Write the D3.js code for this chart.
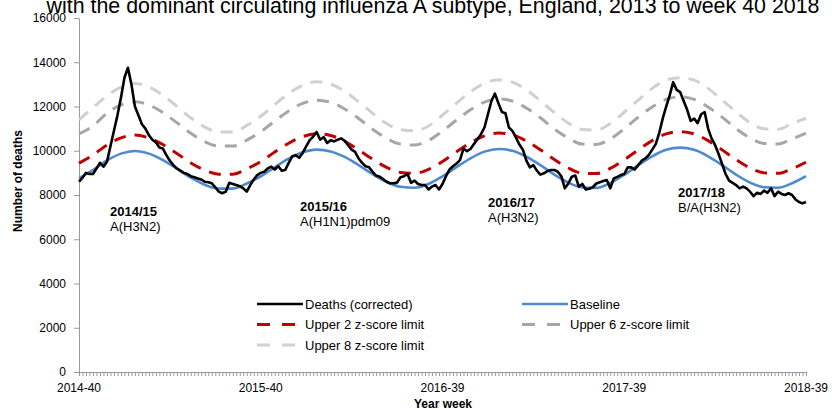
<!DOCTYPE html>
<html>
<head>
<meta charset="utf-8">
<script src="https://cdn.jsdelivr.net/npm/d3@7"></script>
<style>
  body { margin: 0; background: #fff; }
  svg { display: block; font-family: "Liberation Sans", Arial, sans-serif; }
</style>
</head>
<body>
<svg id="chart" width="832" height="410"></svg>
<script>
// weekly deaths (corrected), 2014-40 .. 2018-39
const deaths = [
  8600, 8780, 9000, 8950, 8950, 9200, 9450, 9280, 9500, 10200,
  10900, 11600, 12400, 13300, 13750, 13000, 12000, 11600, 11200, 11000,
  10700, 10500, 10380, 10150, 10100, 9800, 9550, 9350, 9200, 9100,
  9000, 8950, 8850, 8800, 8750, 8700, 8600, 8580, 8530, 8350,
  8150, 8080, 8150, 8550, 8500, 8450, 8400, 8300, 8150, 8450,
  8700, 8900, 9000, 9050, 9200, 9280, 9150, 9300, 9100, 9130,
  9450, 9750, 9800, 9680, 9900, 10200, 10480, 10640, 10850, 10500,
  10620, 10350, 10480, 10420, 10500, 10560, 10450, 10250, 10050, 9950,
  9650, 9450, 9300, 9250, 9050, 8880, 8830, 8720, 8600, 8530,
  8530, 8560, 8800, 8850, 8950, 8550, 8650, 8500, 8450, 8450,
  8250, 8380, 8450, 8250, 8500, 8850, 9150, 9300, 9420, 9580,
  10100, 9980, 10080, 10300, 10520, 10750, 11050, 11650, 12250, 12580,
  12150, 11750, 11700, 11050, 10900, 10600, 10280, 10050, 9550, 9250,
  9350, 9100, 8920, 8980, 9080, 9130, 9130, 9050, 8850, 8300,
  8520, 8830, 8880, 8380, 8500, 8250, 8280, 8350, 8520, 8580,
  8630, 8680, 8300, 8750, 8820, 8900, 8950, 9250, 9250, 9150,
  9350, 9550, 9650, 9800, 10050, 10300, 10800, 11450, 12000, 12500,
  13100, 12750, 12650, 12250, 11850, 11350, 11450, 11250, 11650, 11750,
  11000, 10550, 10250, 9850, 9400, 8950, 8650, 8550, 8450, 8300,
  8380, 8300, 8150, 7950, 8100, 8050, 8200, 8100, 8300, 7950,
  8150, 8050, 8000, 8080, 8000, 7800, 7680, 7620, 7680
];

// smooth series, read every 4th week
const baseline = [
  8760, 9130, 9560, 9870, 9990, 9870, 9580, 9190, 8780, 8460,
  8290, 8290, 8520, 8840, 9250, 9640, 9930, 10050, 9970, 9720,
  9350, 8940, 8590, 8370, 8330, 8500, 8840, 9260, 9660, 9960,
  10080, 10000, 9730, 9350, 8920, 8560, 8340, 8320, 8540, 8910,
  9350, 9750, 10040, 10140, 10040, 9750, 9350, 8920, 8560, 8350,
  8330, 8530, 8850
];
const upper2 = [
  9440, 9810, 10260, 10580, 10710, 10580, 10280, 9880, 9450, 9120,
  8940, 8940, 9180, 9510, 9940, 10340, 10640, 10770, 10690, 10430,
  10040, 9620, 9250, 9020, 8980, 9160, 9510, 9950, 10360, 10670,
  10800, 10720, 10440, 10040, 9600, 9220, 8990, 8970, 9200, 9590,
  10040, 10460, 10760, 10860, 10760, 10460, 10040, 9600, 9220, 9000,
  8980, 9190, 9480
];
const upper6 = [
  10760, 11120, 11700, 12070, 12210, 12070, 11730, 11270, 10790, 10410,
  10210, 10210, 10480, 10860, 11340, 11800, 12140, 12280, 12190, 11890,
  11460, 10970, 10560, 10300, 10260, 10460, 10890, 11380, 11850, 12200,
  12340, 12250, 11930, 11490, 10980, 10570, 10300, 10280, 10530, 10990,
  11520, 11980, 12320, 12440, 12320, 11980, 11520, 11000, 10580, 10330,
  10310, 10540, 10790
];
const upper8 = [
  11400, 11950, 12480, 12880, 13040, 12880, 12510, 12010, 11480, 11070,
  10850, 10850, 11140, 11560, 12090, 12590, 12960, 13120, 13010, 12690,
  12210, 11690, 11230, 10950, 10900, 11120, 11610, 12150, 12660, 13050,
  13200, 13100, 12750, 12260, 11720, 11250, 10960, 10940, 11230, 11740,
  12290, 12820, 13190, 13300, 13190, 12820, 12290, 11750, 11270, 10990,
  10970, 11230, 11470
];

const xTickLabels = ["2014-40", "2015-40", "2016-39", "2017-39", "2018-39"];
const xTickWeeks = [0, 52, 104, 156, 208];
const yTicks = [0, 2000, 4000, 6000, 8000, 10000, 12000, 14000, 16000];

const seasons = ["2014/15", "2015/16", "2016/17", "2017/18"];
const subtypes = ["A(H3N2)", "A(H1N1)pdm09", "A(H3N2)", "B/A(H3N2)"];

const svg = d3.select("#chart");
svg.append("rect").attr("width", 832).attr("height", 410).attr("fill", "#fff");

const x = d3.scaleLinear().domain([0, 208]).range([79, 806]);
const y = d3.scaleLinear().domain([0, 16000]).range([372, 18]);

// title (cut at the top like the source)
svg.append("text")
  .attr("x", 433).attr("y", 13)
  .attr("text-anchor", "middle")
  .style("font-size", "21.4px")
  .attr("fill", "#000")
  .text("with the dominant circulating influenza A subtype, England, 2013 to week 40 2018");

// y axis
const yAxis = svg.append("g")
  .attr("transform", "translate(79,0)")
  .call(d3.axisLeft(y).tickValues(yTicks).tickFormat(d3.format("d")).tickSize(5).tickSizeOuter(0).tickPadding(8));
yAxis.select(".domain").attr("stroke", "#9a9a9a");
yAxis.selectAll(".tick line").attr("stroke", "#9a9a9a");
yAxis.selectAll(".tick text").style("font-size", "12px").style("font-family", "Liberation Sans, Arial").attr("fill", "#000");

// x axis: one small tick per week
const xAxis = svg.append("g")
  .attr("transform", "translate(0,372)")
  .call(d3.axisBottom(x).tickValues(d3.range(0, 209)).tickFormat("").tickSize(4).tickSizeOuter(0));
xAxis.select(".domain").attr("stroke", "#9a9a9a");
xAxis.selectAll(".tick line").attr("stroke", "#9a9a9a");

svg.append("g").selectAll("text")
  .data(xTickLabels)
  .join("text")
  .attr("x", (d, i) => x(xTickWeeks[i]))
  .attr("y", 392)
  .attr("text-anchor", "middle")
  .style("font-size", "12px")
  .text(d => d);

svg.append("text")
  .attr("x", 443).attr("y", 408)
  .attr("text-anchor", "middle")
  .style("font-size", "12px").style("font-weight", "bold")
  .text("Year week");

svg.append("text")
  .attr("transform", "translate(22,181) rotate(-90)")
  .attr("text-anchor", "middle")
  .style("font-size", "12px").style("font-weight", "bold")
  .text("Number of deaths");

// lines
const smoothLine = d3.line()
  .x((d, i) => x(i * 4))
  .y(d => y(d))
  .curve(d3.curveMonotoneX);
const weekLine = d3.line()
  .x((d, i) => x(i))
  .y(d => y(d));

const series = [
  { data: upper8, color: "#d0d0d0", dash: "12,9", width: 3, line: smoothLine },
  { data: upper6, color: "#a6a6a6", dash: "12,9", width: 3, line: smoothLine },
  { data: upper2, color: "#c00000", dash: "12,9", width: 3, line: smoothLine },
  { data: baseline, color: "#4f8ad0", dash: null, width: 2.6, line: smoothLine },
  { data: deaths, color: "#000", dash: null, width: 2.6, line: weekLine }
];
series.forEach(s => {
  svg.append("path")
    .datum(s.data)
    .attr("d", s.line)
    .attr("fill", "none")
    .attr("stroke", s.color)
    .attr("stroke-width", s.width)
    .attr("stroke-dasharray", s.dash)
    .attr("stroke-linejoin", "round");
});

// season annotations
const annotationAt = [[110, 216], [300, 211], [488, 207], [678, 197]];
seasons.forEach((s, i) => {
  const [ax, ay] = annotationAt[i];
  svg.append("text").attr("x", ax).attr("y", ay)
    .style("font-size", "13px").style("font-weight", "bold").text(s);
  svg.append("text").attr("x", ax).attr("y", ay + 15)
    .style("font-size", "13px").text(subtypes[i]);
});

// legend
const legendItems = [
  { name: "Deaths (corrected)", color: "#000", dash: null, width: 2.6, col: 0, row: 0 },
  { name: "Baseline", color: "#4f8ad0", dash: null, width: 2.6, col: 1, row: 0 },
  { name: "Upper 2 z-score limit", color: "#c00000", dash: "13,12", width: 3, col: 0, row: 1 },
  { name: "Upper 6 z-score limit", color: "#a6a6a6", dash: "13,12", width: 3, col: 1, row: 1 },
  { name: "Upper 8 z-score limit", color: "#d0d0d0", dash: "13,12", width: 3, col: 0, row: 2 }
];
const legend = svg.append("g");
legendItems.forEach(d => {
  const lx = d.col === 0 ? 257 : 522;
  const ly = 304 + d.row * 20.5;
  legend.append("line")
    .attr("x1", lx).attr("x2", lx + (d.dash ? 39 : 46))
    .attr("y1", ly).attr("y2", ly)
    .attr("stroke", d.color).attr("stroke-width", d.width)
    .attr("stroke-dasharray", d.dash);
  legend.append("text")
    .attr("x", lx + 48).attr("y", ly + 4.5)
    .style("font-size", "13px").text(d.name);
});
</script>
</body>
</html>
